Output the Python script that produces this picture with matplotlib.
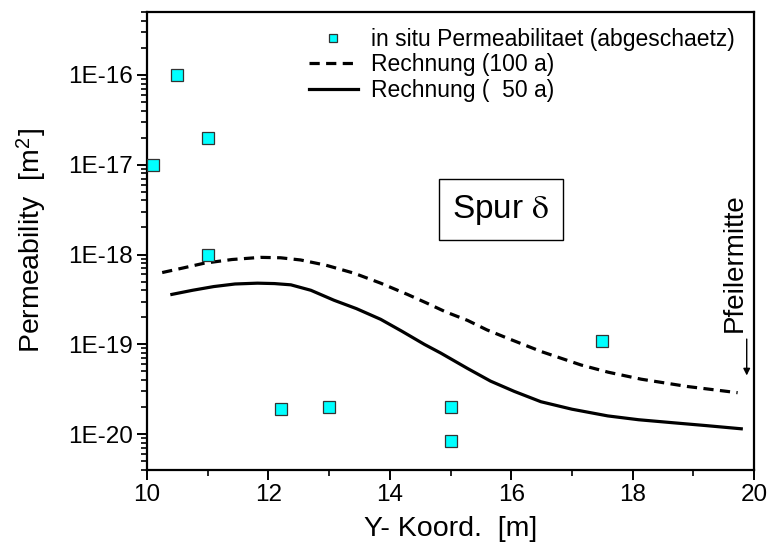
import numpy as np
import matplotlib
matplotlib.use('Agg')
import matplotlib.pyplot as plt
from matplotlib.ticker import LogLocator, FixedLocator, FixedFormatter, MultipleLocator, NullFormatter

plt.rcParams['font.family'] = ['Liberation Sans', 'DejaVu Sans']
plt.rcParams['mathtext.fontset'] = 'stix'

# in situ permeability (estimated)
meas_x = [10.1, 10.5, 11.0, 11.0, 12.2, 13.0, 15.0, 15.0, 17.5]
meas_k = [1e-17, 1e-16, 2e-17, 1e-18, 1.9e-20, 2e-20, 2e-20, 8.5e-21, 1.1e-19]

# Rechnung (100 a)
x100 = [10.25, 10.6, 10.94, 11.4, 11.87, 12.2, 12.53, 12.95, 13.41, 13.85, 14.29, 14.6, 14.92, 15.28,
        15.6, 15.94, 16.5, 17.15, 17.6, 18.14, 18.9, 19.73]
k100 = [6.3e-19, 7.1e-19, 8.0e-19, 8.8e-19, 9.3e-19, 9.2e-19, 8.7e-19, 7.6e-19, 6.2e-19, 4.8e-19,
        3.6e-19, 2.9e-19, 2.3e-19, 1.85e-19, 1.45e-19, 1.17e-19, 8.3e-20, 5.9e-20, 4.9e-20, 4.1e-20,
        3.4e-20, 2.9e-20]

# Rechnung (50 a)
x50 = [10.41, 10.75, 11.1, 11.45, 11.82, 12.1, 12.37, 12.7, 13.08, 13.45, 13.85, 14.2, 14.57, 14.84,
       15.28, 15.66, 16.05, 16.49, 17.0, 17.59, 18.1, 18.68, 19.2, 19.79]
k50 = [3.6e-19, 4.0e-19, 4.4e-19, 4.7e-19, 4.8e-19, 4.75e-19, 4.6e-19, 4.0e-19, 3.1e-19, 2.5e-19,
       1.9e-19, 1.4e-19, 1.0e-19, 8.0e-20, 5.4e-20, 3.9e-20, 3.0e-20, 2.3e-20, 1.9e-20, 1.6e-20,
       1.45e-20, 1.34e-20, 1.25e-20, 1.15e-20]

ytick_vals = [1e-20, 1e-19, 1e-18, 1e-17, 1e-16]
ytick_labels = ['1E-20', '1E-19', '1E-18', '1E-17', '1E-16']

fig = plt.figure(figsize=(7.71, 5.57), dpi=100)
ax = fig.add_axes([147/771, 1 - 470/557, (754 - 147)/771, (470 - 12)/557])

ax.plot(meas_x, meas_k, ls='none', marker='s', ms=8.8, mfc='#00FFFF', mec='#333333', mew=0.9,
        label='in situ Permeabilitaet (abgeschaetz)', zorder=3)
ax.plot(x100, k100, color='black', lw=2.3, dashes=(3.2, 2.0), label='Rechnung (100 a)')
ax.plot(x50, k50, color='black', lw=2.3, label='Rechnung (  50 a)')

ax.set_yscale('log')
ax.set_xlim(10, 20)
ax.set_ylim(4e-21, 5e-16)
ax.xaxis.set_major_locator(MultipleLocator(2))
ax.xaxis.set_minor_locator(MultipleLocator(1))
ax.yaxis.set_major_locator(FixedLocator(ytick_vals))
ax.yaxis.set_major_formatter(FixedFormatter(ytick_labels))
ax.yaxis.set_minor_locator(LogLocator(base=10, subs=np.arange(2, 10), numticks=50))
ax.yaxis.set_minor_formatter(NullFormatter())

ax.tick_params(which='major', direction='out', length=7, width=1.4, labelsize=17.5, pad=3)
ax.tick_params(which='minor', direction='out', length=4, width=1.2)
for s in ax.spines.values():
    s.set_linewidth(1.6)

ax.set_xlabel('Y- Koord.  [m]', fontsize=20.5, labelpad=7)
ax.set_ylabel('Permeability  [m$^\\mathregular{2}$]', fontsize=20.5, labelpad=14)

ax.text(15.83, 10**(-17.5), 'Spur $\\mathrm{\\delta}$', fontsize=24, ha='center', va='center',
        bbox=dict(boxstyle='square,pad=0.4', fc='white', ec='black', lw=1.0))

ax.text(19.69, 1.39e-19, 'Pfeilermitte', rotation=90, fontsize=20, ha='center', va='bottom')
ax.annotate('', xy=(19.88, 4.2e-20), xytext=(19.88, 1.23e-19),
            arrowprops=dict(arrowstyle='-|>', color='black', lw=1.0, mutation_scale=10))

leg = ax.legend(loc='upper right', bbox_to_anchor=(735/771, 1 - 28/557), bbox_transform=fig.transFigure,
                frameon=False, fontsize=16.5, markerscale=0.65, handlelength=2.1, handletextpad=0.6,
                labelspacing=0.1, borderpad=0, borderaxespad=0)

fig.savefig('out.png', dpi=100)
